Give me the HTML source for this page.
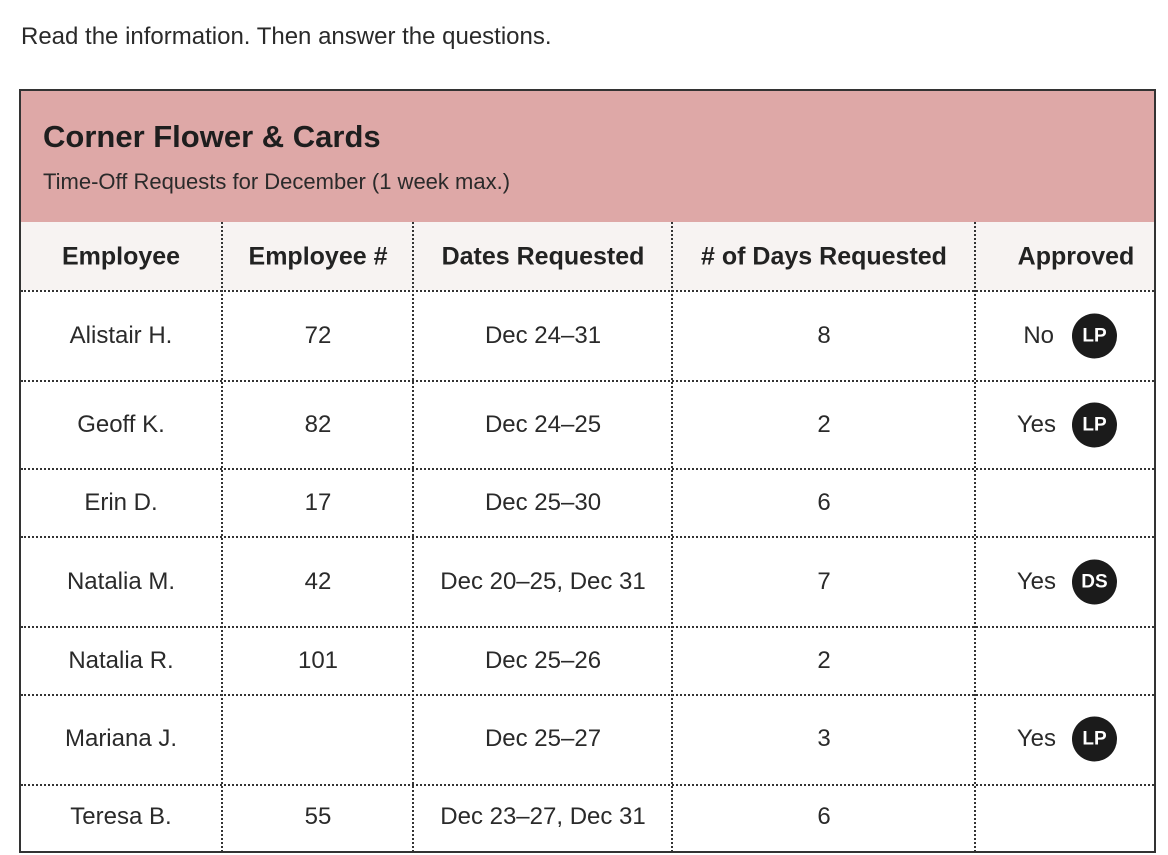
<!DOCTYPE html>
<html><head><style>
body{margin:0;width:1168px;height:855px;background:#fff;font-family:"Liberation Sans",sans-serif;color:#222;position:relative;overflow:hidden}
.a{position:absolute}
.t{position:absolute;transform:translate(-50%,-50%);white-space:nowrap;font-size:24px;color:#2a2a2a}
.h{font-weight:bold;font-size:25px;color:#222}
.hl{position:absolute;left:21px;width:1133px;border-top:2px dotted #333;height:0}
.vl{position:absolute;top:222px;height:630px;border-left:2px dotted #333;width:0}
.b{position:absolute;width:45px;height:45px;border-radius:50%;background:#1b1b1b;color:#fff;font-weight:bold;font-size:19px;line-height:45px;text-align:center;transform:translate(0,-50%)}
.yn{position:absolute;transform:translate(-100%,-50%);font-size:24px;color:#2a2a2a}
</style></head><body>
<div class="a" style="left:21px;top:37px;transform:translateY(-50%);font-size:24px;color:#2a2a2a">Read the information. Then answer the questions.</div>
<div class="a" style="left:19px;top:89px;width:1133px;height:760px;border:2px solid #333"></div>
<div class="a" style="left:21px;top:91px;width:1133px;height:131px;background:#dea8a7"></div>
<div class="a" style="left:21px;top:222px;width:1133px;height:68px;background:#f7f3f2"></div>
<div class="a" style="left:43px;top:137px;transform:translateY(-50%);font-weight:bold;font-size:31px;color:#1e1e1e">Corner Flower &amp; Cards</div>
<div class="a" style="left:43px;top:182px;transform:translateY(-50%);font-size:22px;color:#2a2a2a">Time-Off Requests for December (1 week max.)</div>
<div class="vl" style="left:221px"></div><div class="vl" style="left:412px"></div><div class="vl" style="left:671px"></div><div class="vl" style="left:974px"></div>
<div class="hl" style="top:290px"></div><div class="hl" style="top:380px"></div><div class="hl" style="top:468px"></div><div class="hl" style="top:536px"></div><div class="hl" style="top:626px"></div><div class="hl" style="top:694px"></div><div class="hl" style="top:784px"></div>
<div class="t h" style="left:121px;top:257px">Employee</div>
<div class="t h" style="left:318px;top:257px">Employee #</div>
<div class="t h" style="left:543px;top:257px">Dates Requested</div>
<div class="t h" style="left:824px;top:257px"># of Days Requested</div>
<div class="t h" style="left:1076px;top:257px">Approved</div>

<div class="t" style="left:121px;top:336px">Alistair H.</div><div class="t" style="left:318px;top:336px">72</div><div class="t" style="left:543px;top:336px">Dec 24–31</div><div class="t" style="left:824px;top:336px">8</div>
<div class="yn" style="left:1054px;top:336px">No</div><div class="b" style="left:1072px;top:336px">LP</div>

<div class="t" style="left:121px;top:425px">Geoff K.</div><div class="t" style="left:318px;top:425px">82</div><div class="t" style="left:543px;top:425px">Dec 24–25</div><div class="t" style="left:824px;top:425px">2</div>
<div class="yn" style="left:1056px;top:425px">Yes</div><div class="b" style="left:1072px;top:425px">LP</div>

<div class="t" style="left:121px;top:503px">Erin D.</div><div class="t" style="left:318px;top:503px">17</div><div class="t" style="left:543px;top:503px">Dec 25–30</div><div class="t" style="left:824px;top:503px">6</div>

<div class="t" style="left:121px;top:582px">Natalia M.</div><div class="t" style="left:318px;top:582px">42</div><div class="t" style="left:543px;top:582px">Dec 20–25, Dec 31</div><div class="t" style="left:824px;top:582px">7</div>
<div class="yn" style="left:1056px;top:582px">Yes</div><div class="b" style="left:1072px;top:582px">DS</div>

<div class="t" style="left:121px;top:661px">Natalia R.</div><div class="t" style="left:318px;top:661px">101</div><div class="t" style="left:543px;top:661px">Dec 25–26</div><div class="t" style="left:824px;top:661px">2</div>

<div class="t" style="left:121px;top:739px">Mariana J.</div><div class="t" style="left:543px;top:739px">Dec 25–27</div><div class="t" style="left:824px;top:739px">3</div>
<div class="yn" style="left:1056px;top:739px">Yes</div><div class="b" style="left:1072px;top:739px">LP</div>

<div class="t" style="left:121px;top:817px">Teresa B.</div><div class="t" style="left:318px;top:817px">55</div><div class="t" style="left:543px;top:817px">Dec 23–27, Dec 31</div><div class="t" style="left:824px;top:817px">6</div>
</body></html>
